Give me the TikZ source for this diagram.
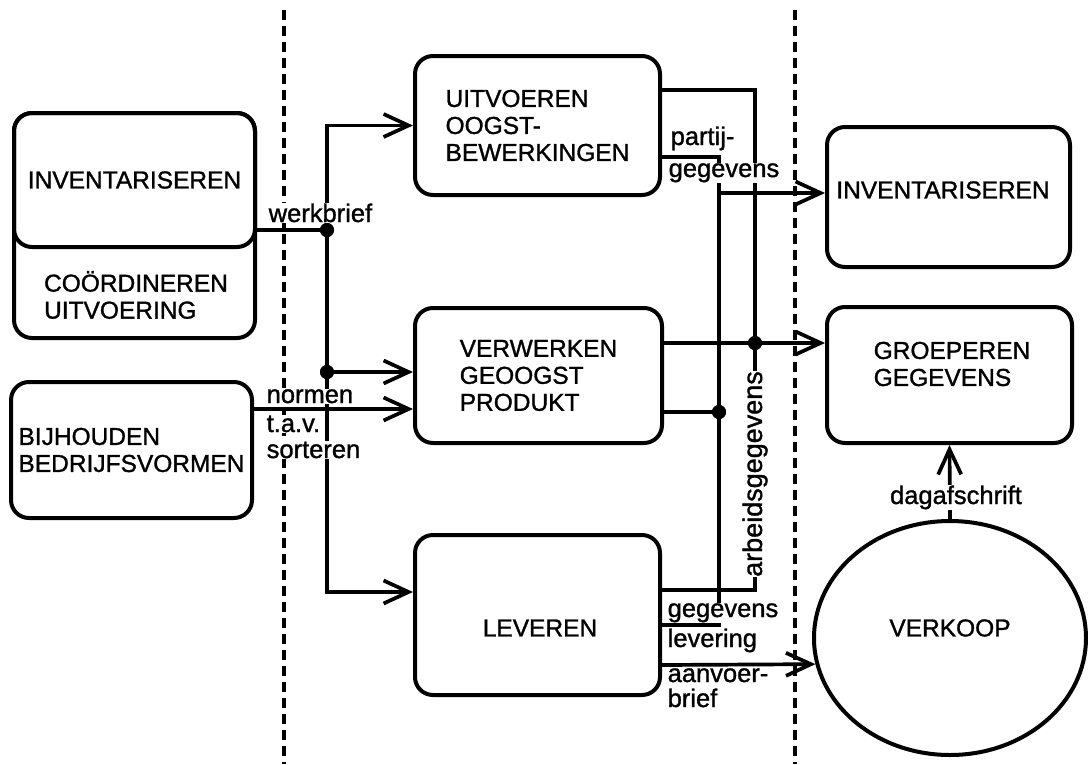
\documentclass[tikz,border=0pt]{standalone}
\usepackage{fontspec}
\setmainfont{Liberation Sans}[FakeBold=1.2]
\usetikzlibrary{arrows.meta,shapes.geometric}
\newcommand\bxfont{\fontsize{24.5pt}{27pt}\selectfont}
\newcommand\lbfont{\fontsize{25.5pt}{27pt}\selectfont}
\begin{document}
\begin{tikzpicture}[x=1pt,y=-1pt,
  box/.style={draw,line width=4pt,rounded corners=18pt,inner sep=0pt,font=\bxfont,align=left},
  txt/.style={font=\bxfont,align=left,inner sep=0pt},
  conn/.style={line width=3.7pt},
  arr/.style={conn,-{Straight Barb[length=25pt,width=23pt]}},
  dsh/.style={line width=4pt,dash pattern=on 10pt off 6pt},
  lbl/.style={font=\lbfont,fill=white,inner sep=0.5pt,anchor=base west},
  dot/.style={circle,fill,inner sep=0pt,minimum size=14pt}]
\useasboundingbox (0,0) rectangle (1088,764);
% separators
\draw[dsh] (284,10) -- (284,764);
\draw[dsh] (795,10) -- (795,764);
% boxes
\node[box,minimum width=241pt,minimum height=225pt] (coordbox) at (134.5,225.5) {};
\node[box,minimum width=241pt,minimum height=134pt] (invL) at (134.5,180) {INVENTARISEREN};
\node[txt] (coordL) at (136,295) {COÖRDINEREN\\UITVOERING};
\node[box,minimum width=241pt,minimum height=136pt] (bijh) at (131.5,450) {BIJHOUDEN\\BEDRIJFSVORMEN};
\node[box,minimum width=245pt,minimum height=139pt] (uitv) at (537.5,125.5) {UITVOEREN\\OOGST-\\BEWERKINGEN};
\node[box,minimum width=247pt,minimum height=135pt] (verw) at (538.5,375.5) {VERWERKEN\\GEOOGST\\PRODUKT};
\node[box,minimum width=245pt,minimum height=160pt] (lev) at (537.5,615) {};
\node[txt] (levT) at (540,628) {LEVEREN};
\node[box,minimum width=243pt,minimum height=140pt] (invR) at (948.5,197) {};
\node[txt] (invRT) at (943,190) {INVENTARISEREN};
\node[box,minimum width=245pt,minimum height=136pt] (groep) at (949.5,375) {};
\node[txt] (groepT) at (952,364) {GROEPEREN\\GEGEVENS};
\node[draw,ellipse,line width=4pt,minimum width=272pt,minimum height=234pt,inner sep=0pt,font=\bxfont] (verk) at (950,638) {};
\node[txt] (verkT) at (950,628) {VERKOOP};
% junctions and helper coordinates
\node[dot] (j1) at (327,230) {};
\node[dot] (j2) at (327,372) {};
\node[dot] (j3) at (755,343) {};
\node[dot] (j4) at (719,412) {};
\coordinate (yL) at (0,592);
\coordinate (yN) at (0,409);
\coordinate (yA) at (0,90);
\coordinate (yB) at (0,157);
\coordinate (yC) at (0,193);
\coordinate (yD) at (0,343);
\coordinate (yE) at (0,412);
\coordinate (yF) at (0,590);
\coordinate (yG) at (0,625);
\coordinate (yH) at (0,665);
\coordinate (xA) at (755,0);
\coordinate (xB) at (719,0);
% left connectors
\draw[conn] (invL.east |- j1) -- (j1.center);
\draw[arr] (j1.center) |- (uitv.west);
\draw[conn] (j1.center) -- (j2.center);
\draw[arr] (j2.center) -- (verw.west |- j2);
\draw[arr] (j2.center) |- (lev.west |- yL);
\draw[arr] (bijh.east |- yN) -- (verw.west |- yN);
% right connectors
\draw[conn] (uitv.east |- yA) -| (xA |- yF) -- (lev.east |- yF);
\draw[conn] (uitv.east |- yB) -| (xB |- yG) -- (lev.east |- yG);
\draw[arr] (xB |- yC) -- (invR.west |- yC);
\draw[arr] (verw.east |- yD) -- (groep.west |- yD);
\draw[conn] (verw.east |- yE) -- (j4.center);
\draw[arr] (lev.east |- yH) -- (verk.191.45);
\draw[arr] (verk.north) -- (groep.south);
% labels
\node[lbl] (lwerk) at (268,222) {werkbrief};
\node[lbl] (lnorm1) at (266,403) {normen};
\node[lbl] (lnorm2) at (266,432) {t.a.v.};
\node[lbl] (lnorm3) at (266,458) {sorteren};
\node[lbl] (lpart1) at (670,145) {partij-};
\node[lbl] (lpart2) at (668,177) {gegevens};
\node[lbl,anchor=center,rotate=90,font=\fontsize{27pt}{27pt}\selectfont] (larb) at (755,474) {arbeidsgegevens};
\node[lbl] (lgev1) at (667,617) {gegevens};
\node[lbl] (lgev2) at (667,647) {levering};
\node[lbl] (laan1) at (667,682) {aanvoer-};
\node[lbl] (laan2) at (667,707) {brief};
\node[lbl,anchor=base] (ldag) at (956,504) {dagafschrift};
% redraw dots on top
\node[dot] at (j1) {};
\node[dot] at (j2) {};
\node[dot] at (j3) {};
\node[dot] at (j4) {};
\end{tikzpicture}
\end{document}
